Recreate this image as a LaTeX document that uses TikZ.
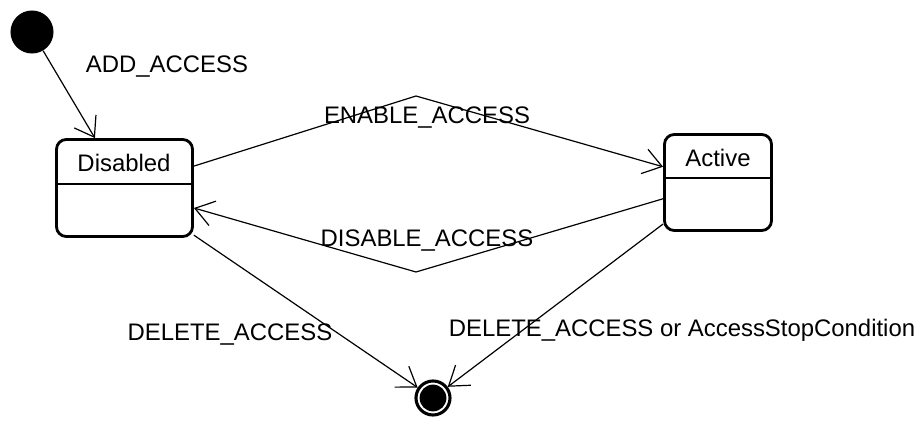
\documentclass[tikz,border=0pt]{standalone}
\usepackage{fontspec}
\setmainfont{Liberation Sans}
\usetikzlibrary{arrows.meta}

\begin{document}
\begin{tikzpicture}[x=0.025cm,y=-0.025cm,
    >={Straight Barb[length=13pt,width=18pt]},
    every node/.style={font=\fontsize{17}{20}\selectfont},
    statebox/.style={draw,line width=2pt,rounded corners=7pt,fill=white,inner sep=0pt},
    trans/.style={->,line width=0.85pt}]
  \useasboundingbox (0,0) rectangle (923,425);

  % states
  \node[circle,fill=black,minimum size=1.075cm,inner sep=0pt] (init) at (32,32) {};
  \node[statebox,minimum width=3.4cm,minimum height=2.425cm] (disabled) at (124.5,188) {};
  \node[statebox,minimum width=2.675cm,minimum height=2.4cm] (active) at (718,182.5) {};
  \node[circle,draw,line width=2.2pt,fill=white,minimum size=0.85cm,inner sep=0pt] (final) at (433,398) {};
  \node[circle,fill=black,minimum size=0.67cm,inner sep=0pt] (finaldot) at (final) {};

  \node (disabledname) at (124,163) {Disabled};
  \node (activename)   at (718,158) {Active};
  \draw[line width=0.8pt] (disabled.west |- 0,184) -- (disabled.east |- 0,184);
  \draw[line width=0.8pt] (active.west |- 0,178) -- (active.east |- 0,178);

  % bend points
  \coordinate (enbend)  at (416,96);
  \coordinate (disbend) at (416,272);

  % transitions
  \draw[trans] (init) -- (disabled);
  \draw[trans] (disabled) -- (enbend) -- (active);
  \draw[trans] (active) -- (disbend) -- (disabled);
  \path[trans]
    (disabled) edge (final)
    (active)   edge (final);

  % labels
  \node (addlbl)     at (167,67)  {ADD\_ACCESS};
  \node (enlbl)      at (427,118) {ENABLE\_ACCESS};
  \node (dislbl)     at (427,241) {DISABLE\_ACCESS};
  \node (dellbl)     at (230,335) {DELETE\_ACCESS};
  \node (stoplbl)    at (682,330) {DELETE\_ACCESS or AccessStopCondition};
\end{tikzpicture}
\end{document}
